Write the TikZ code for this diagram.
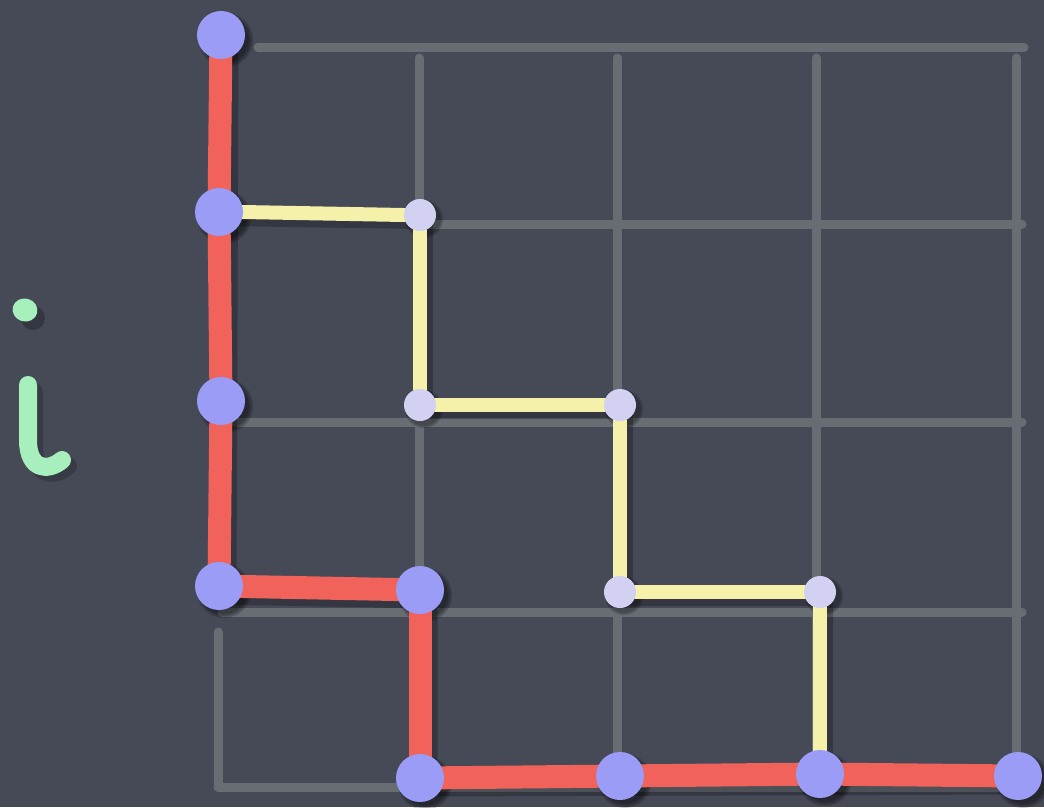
\documentclass[tikz,border=0pt]{standalone}
\usetikzlibrary{backgrounds}
\definecolor{board}{RGB}{70,74,87}
\definecolor{gridc}{RGB}{104,108,115}
\definecolor{redc}{RGB}{240,98,90}
\definecolor{yelc}{RGB}{245,241,170}
\definecolor{bigdot}{RGB}{155,156,245}
\definecolor{smalldot}{RGB}{210,209,242}
\definecolor{chalkgreen}{RGB}{167,240,190}
\pgfdeclarelayer{gridlayer}
\pgfdeclarelayer{shadowlayer}
\pgfdeclarelayer{lines}
\pgfsetlayers{background,gridlayer,shadowlayer,lines,main}
\tikzset{
  gridline/.style={draw=gridc, line width=9pt, line cap=round},
  redline/.style={draw=redc, line width=23pt},
  yelline/.style={draw=yelc, line width=14pt, line cap=round},
  bigdotnode/.style={circle, fill=bigdot, minimum size=48pt, inner sep=0pt},
  smalldotnode/.style={circle, fill=smalldot, minimum size=32pt, inner sep=0pt},
  shade1/.style={fill=black, opacity=0.18},
}
\begin{document}
\begin{tikzpicture}[x=1pt,y=-1pt]
\begin{pgfonlayer}{background}
\fill[board] (0,0) rectangle (1044,807);
\end{pgfonlayer}
\useasboundingbox (0,0) rectangle (1044,807);

% grid
\begin{pgfonlayer}{gridlayer}
\draw[gridline] (258,47) -- (1024,47);
\draw[gridline] (430,224) -- (1022,224);
\draw[gridline] (232,422) -- (1022,422);
\draw[gridline] (222,612) -- (1022,612);
\draw[gridline] (218,787) -- (1010,787);
\draw[gridline] (218,632) -- (218,787);
\draw[gridline] (419,58) -- (419,790);
\draw[gridline] (617,58) -- (617,790);
\draw[gridline] (816,58) -- (816,790);
\draw[gridline] (1016,58) -- (1016,760);
\end{pgfonlayer}

% chalk letter i
\fill[chalkgreen, rotate around={-15:(25,310)}] (25,310) ellipse (12.5 and 11.5);
\draw[chalkgreen, line width=18pt, line cap=round, line join=round]
  (28,385) -- (28,440) .. controls (28,470) and (48,472) .. (62,460);

% big dots (red path)
\node[bigdotnode] (r1) at (221,35) {};
\node[bigdotnode] (r2) at (219,212) {};
\node[bigdotnode] (r3) at (221,401) {};
\node[bigdotnode] (r4) at (219,586) {};
\node[bigdotnode] (r5) at (420,590) {};
\node[bigdotnode] (r6) at (420,778) {};
\node[bigdotnode] (r7) at (620,776) {};
\node[bigdotnode] (r8) at (820,774) {};
\node[bigdotnode] (r9) at (1018,776) {};

% small dots (yellow path)
\node[smalldotnode] (y1) at (420,215) {};
\node[smalldotnode] (y2) at (420,405) {};
\node[smalldotnode] (y3) at (620,405) {};
\node[smalldotnode] (y4) at (620,592) {};
\node[smalldotnode] (y5) at (820,592) {};

% shadows
\begin{pgfonlayer}{shadowlayer}
\foreach \n in {r1,r2,r3,r4,r5,r6,r7,r8,r9}{
  \fill[shade1] ([shift={(5,5)}]\n.center) circle (27);
  \fill[shade1] ([shift={(5,5)}]\n.center) circle (25);
  \fill[shade1] ([shift={(5,5)}]\n.center) circle (23);
}
\foreach \n in {y1,y2,y3,y4,y5}{
  \fill[shade1] ([shift={(4,4)}]\n.center) circle (19);
  \fill[shade1] ([shift={(4,4)}]\n.center) circle (17);
}
\draw[black, opacity=0.25, line width=27pt]
  ([shift={(4,5)}]r1.center) -- ([shift={(4,5)}]r4.center) -- ([shift={(4,5)}]r5.center)
  -- ([shift={(4,5)}]r6.center) -- ([shift={(4,5)}]r9.center);
\draw[black, opacity=0.25, line width=18pt, line cap=round]
  ([shift={(4,5)}]r2.center) -- ([shift={(4,5)}]y1.center) -- ([shift={(4,5)}]y2.center)
  -- ([shift={(4,5)}]y3.center) -- ([shift={(4,5)}]y4.center) -- ([shift={(4,5)}]y5.center)
  -- ([shift={(4,5)}]r8.center);
\fill[black, opacity=0.25] (33,318) circle (12);
\draw[black, opacity=0.2, line width=18pt, line cap=round]
  (34,392) -- (34,446) .. controls (34,476) and (54,478) .. (68,466);
\end{pgfonlayer}

% connectors
\begin{pgfonlayer}{lines}
\draw[redline] (r1.center) -- (r2.center);
\draw[redline] (r2.center) -- (r3.center);
\draw[redline] (r3.center) -- (r4.center);
\draw[redline] (r4.center) -- (r5.center);
\draw[redline] (r5.center) -- (r6.center);
\draw[redline] (r6.center) -- (r7.center);
\draw[redline] (r7.center) -- (r8.center);
\draw[redline] (r8.center) -- (r9.center);
\draw[yelline] (r2.east) -- (y1.west);
\draw[yelline] (y1.south) -- (y2.north);
\draw[yelline] (y2.east) -- (y3.west);
\draw[yelline] (y3.south) -- (y4.north);
\draw[yelline] (y4.east) -- (y5.west);
\draw[yelline] (y5.south) -- (r8.north);
\end{pgfonlayer}
\end{tikzpicture}
\end{document}
